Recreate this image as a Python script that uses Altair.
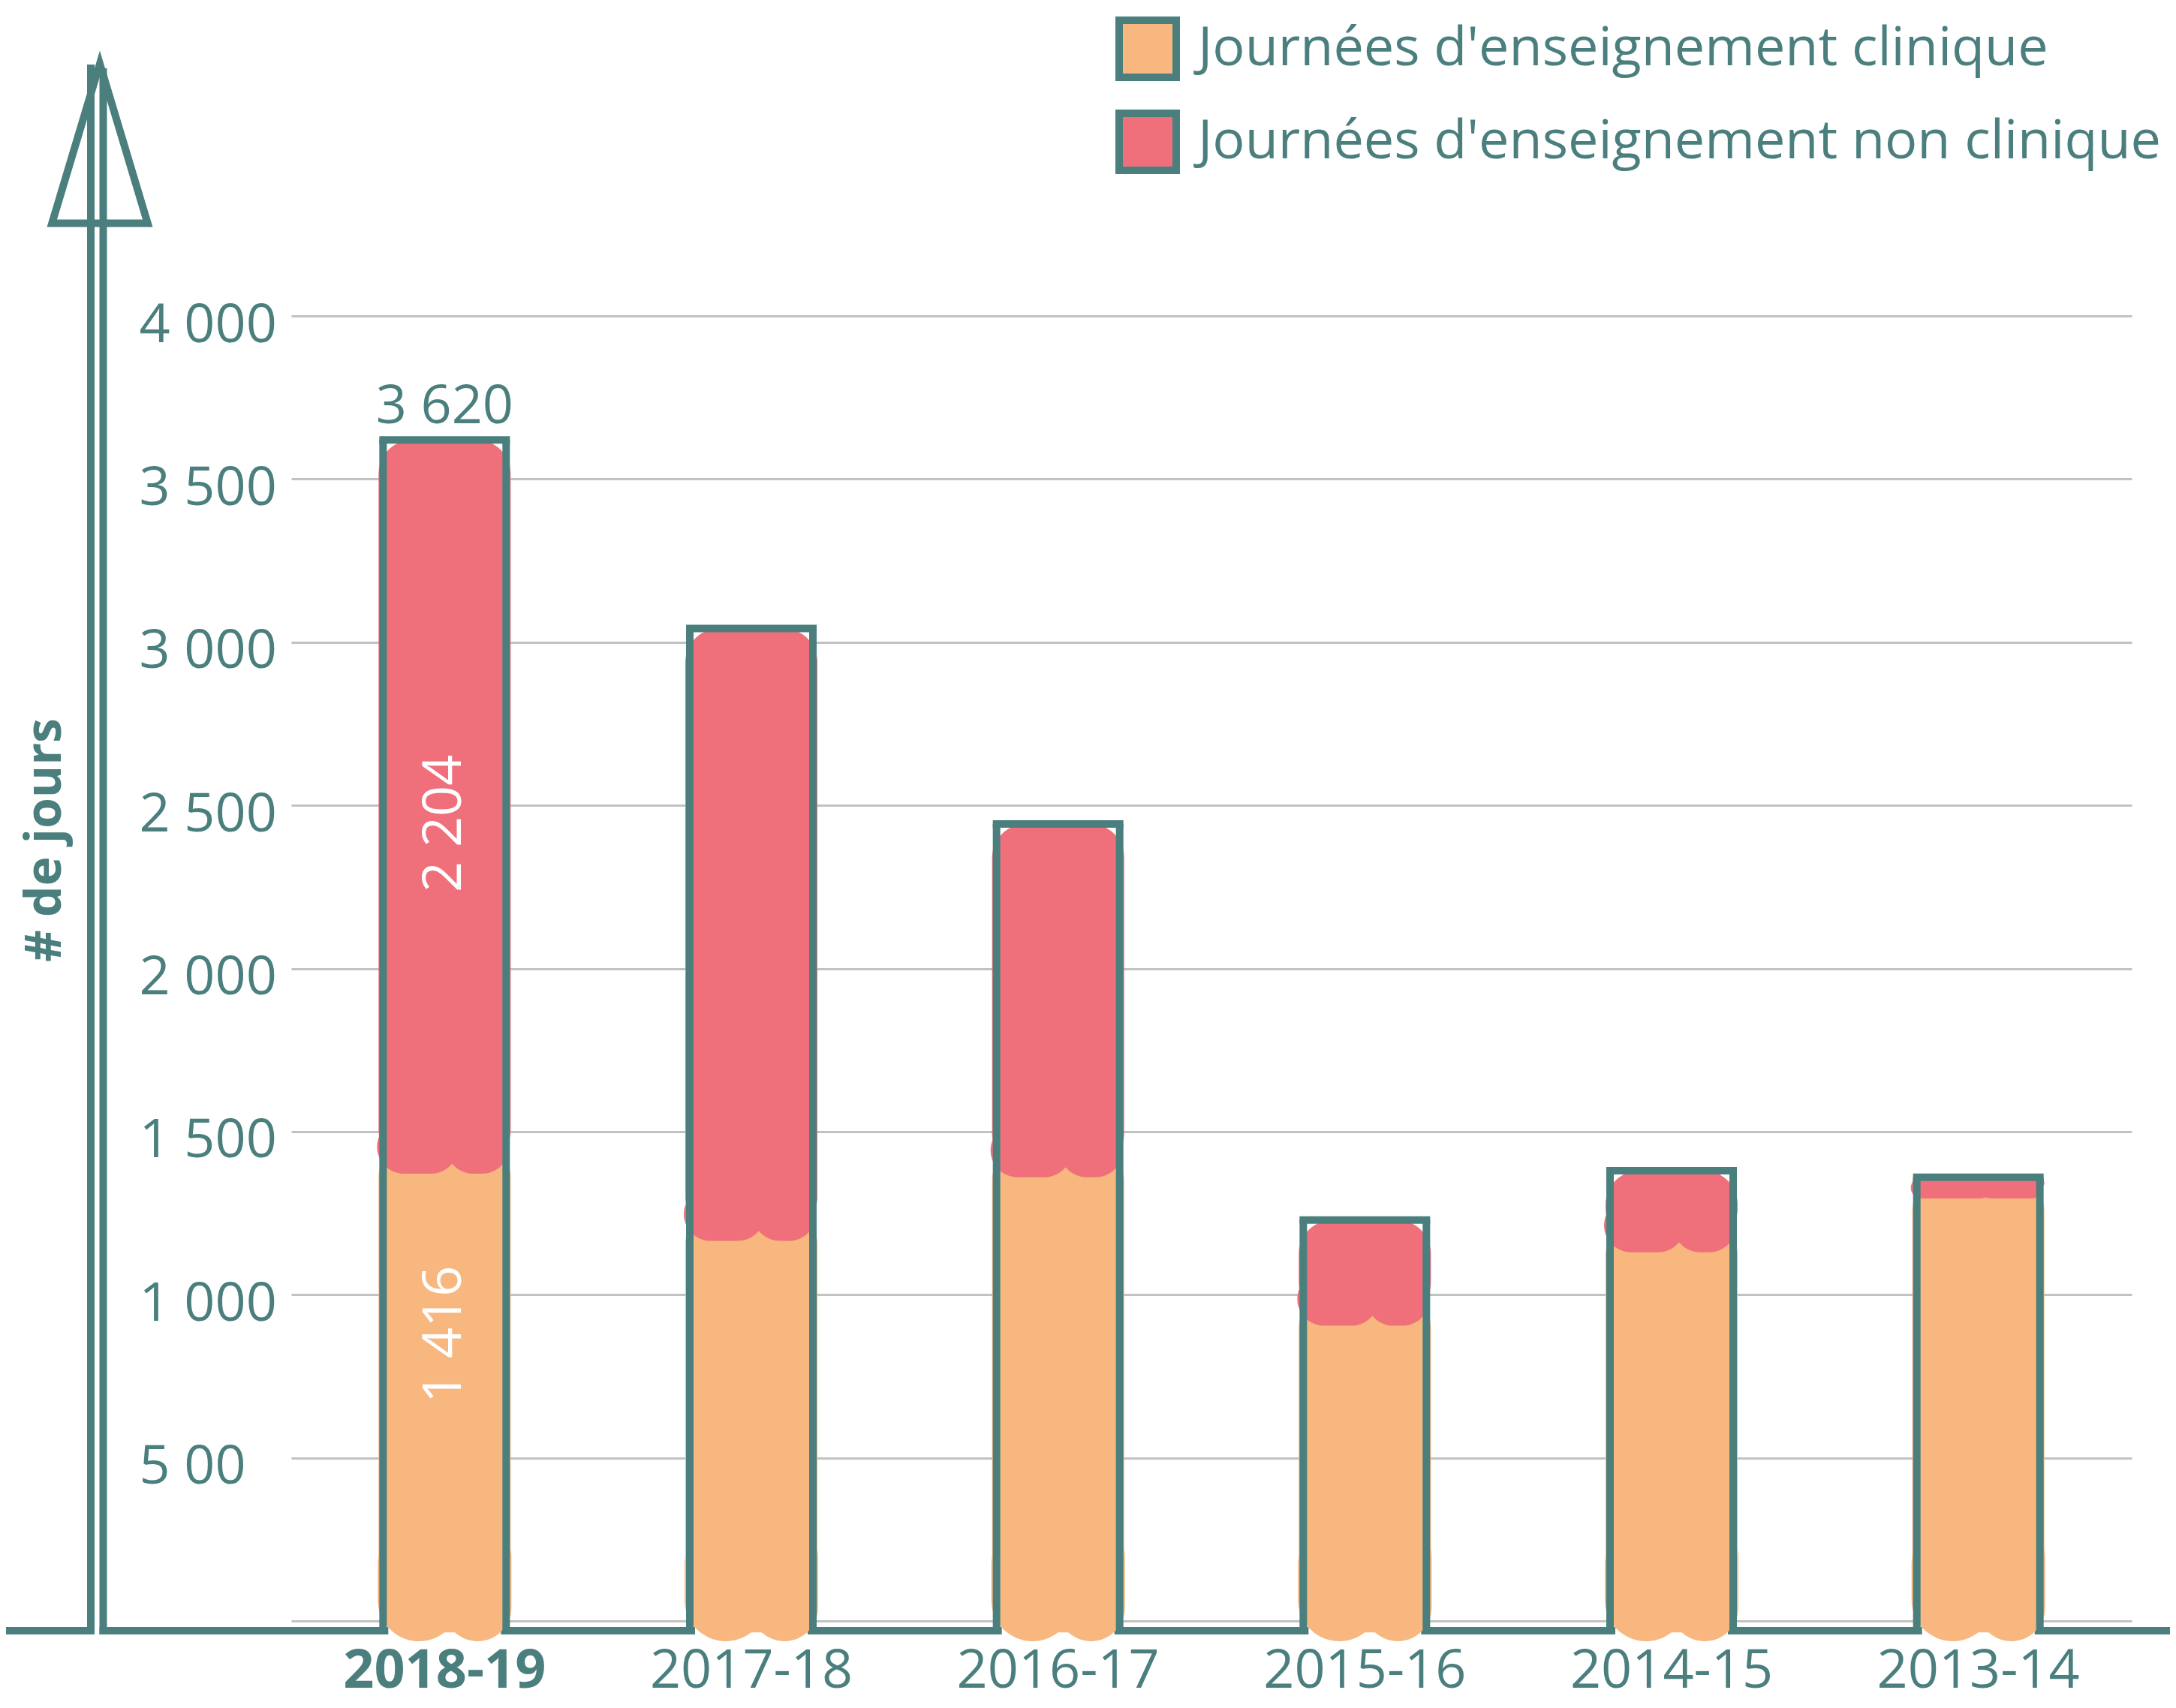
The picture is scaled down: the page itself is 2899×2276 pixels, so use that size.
import altair as alt
import pandas as pd

# ---------------- data ----------------
years = ["2018-19", "2017-18", "2016-17", "2015-16", "2014-15", "2013-14"]
clinical = [1416, 1210, 1405, 950, 1175, 1340]
non_clinical = [2204, 1832, 1038, 279, 205, 20]
series_names = ["Journées d'enseignement clinique", "Journées d'enseignement non clinique"]
y_ticks = [0, 500, 1000, 1500, 2000, 2500, 3000, 3500, 4000]
y_tick_labels = ["", "5 00", "1 000", "1 500", "2 000", "2 500", "3 000", "3 500", "4 000"]
labelled_year = "2018-19"
y_title = "# de jours"

# ---------------- style ----------------
TEAL = "#4A7F7E"
ORANGE = "#F7B77F"
RED = "#EF707B"
GRID = "#C2C2C2"
FONT = "Open Sans"
W, H = 2452, 1739
PAD = {"left": 380, "top": 413, "right": 51, "bottom": 108}


def fmt(v):
    return f"{v:,}".replace(",", " ")


totals = [c + n for c, n in zip(clinical, non_clinical)]
bars = pd.DataFrame({
    "year": years,
    "clinical": clinical,
    "non_clinical": non_clinical,
    "total": totals,
})
bars["total_label"] = [fmt(v) for v in totals]
bars["clin_label"] = [fmt(v) for v in clinical]
bars["non_label"] = [fmt(v) for v in non_clinical]
bars["clin_mid"] = [c / 2 for c in clinical]
bars["non_mid"] = [(c + t) / 2 for c, t in zip(clinical, totals)]
# painted "lobes" of the hand-drawn fill (extents derived from the values)
bars["red_lobe_top"] = [min(c + 120, t) for c, t in zip(clinical, totals)]
bars["red_lobe_bot"] = [c - 45 for c in clinical]
bars["org_lobe_top"] = [min(300, c) for c in clinical]
bars["org_lobe_bot"] = [-62 for _ in clinical]

rows = []
for yv, c, t in zip(years, clinical, totals):
    rows.append({"year": yv, "series": series_names[0], "top": min(c + 50, t), "bottom": -35})
for yv, c, t in zip(years, clinical, totals):
    rows.append({"year": yv, "series": series_names[1], "top": t, "bottom": c - 15})
blobs = pd.DataFrame(rows)
one = pd.DataFrame({"k": [0]})

label_expr = " : ".join(
    f"datum.value == {v} ? '{l}'" for v, l in zip(y_ticks, y_tick_labels)
) + " : ''"

x_axis = alt.Axis(
    title=None, labelAngle=0, labelFont=FONT, labelFontSize=72, labelColor=TEAL,
    labelFontWeight={"condition": {"test": f"datum.value == '{labelled_year}'", "value": "bold"},
                     "value": "normal"},
    labelPadding=88, labelBaseline="alphabetic", ticks=False, tickSize=0,
    domain=False, grid=False, labelLimit=1000, labelOverlap=False,
)
y_axis = alt.Axis(
    title=y_title, values=y_ticks, labelExpr=label_expr, labelFont=FONT,
    labelFontSize=72, labelColor=TEAL, labelAlign="left", labelPadding=203,
    labelBaseline="alphabetic", labelOffset=34, ticks=False, tickSize=0,
    domain=False, grid=True, gridColor=GRID, gridWidth=3, labelLimit=1000,
    labelOverlap=False,
    titleFont=FONT, titleFontWeight="bold", titleFontSize=66, titleColor=TEAL,
    titleAngle=270, titleAlign="center", titleBaseline="alphabetic",
    titleX=-308, titleY=698,
)
x_scale = alt.Scale(domain=years, paddingInner=0.6, paddingOuter=0.3)
y_scale = alt.Scale(domain=[0, 4000], nice=False, zero=False)


def X():
    return alt.X("year:N", sort=years, scale=x_scale, axis=x_axis)


def Y(field):
    return alt.Y(field, type="quantitative", scale=y_scale, axis=y_axis)


# baseline (interrupted by the arrow shaft)
base1 = alt.Chart(one).mark_rule(color=TEAL, strokeWidth=10, strokeCap="butt").encode(
    x=alt.value(-380), x2=alt.value(-262), y=alt.value(H + 13))
base2 = alt.Chart(one).mark_rule(color=TEAL, strokeWidth=10, strokeCap="butt").encode(
    x=alt.value(-255.5), x2=alt.value(W + 51), y=alt.value(H + 13))
# arrow shaft (double line) and head
shaft1 = alt.Chart(one).mark_rule(color=TEAL, strokeWidth=10, strokeCap="butt").encode(
    x=alt.value(-267), y=alt.value(-335), y2=alt.value(H + 18))
shaft2 = alt.Chart(one).mark_rule(color=TEAL, strokeWidth=10, strokeCap="butt").encode(
    x=alt.value(-250.5), y=alt.value(-330), y2=alt.value(H + 18))
head = alt.Chart(one).mark_point(
    shape="M0,-1L0.6,1L-0.6,1Z", size=45156, filled=False, stroke=TEAL,
    strokeWidth=10, opacity=1, strokeJoin="miter",
).encode(x=alt.value(-255), y=alt.value(-229.75))

# white cover hiding the baseline under each bar
cover = alt.Chart(bars).mark_bar(color="white", width=150, opacity=1).encode(
    x=X(), y=alt.value(H - 2), y2=alt.value(H + 20))

# painted fills
fills = alt.Chart(blobs).mark_bar(width=176, cornerRadius=45, opacity=1).encode(
    x=X(),
    y=Y("top"),
    y2="bottom:Q",
    color=alt.Color(
        "series:N",
        scale=alt.Scale(domain=series_names, range=[ORANGE, RED]),
        legend=alt.Legend(
            title=None, orient="none", legendX=1098, legendY=-399, padding=0,
            symbolType="square", symbolSize=5776, symbolStrokeColor=TEAL,
            symbolStrokeWidth=10, symbolOpacity=1, labelFont=FONT, labelFontSize=72,
            labelColor=TEAL, labelOffset=24, rowPadding=8, labelLimit=3000,
        ),
    ),
)


def lobe(color, top, bot, width, offset, radius):
    return alt.Chart(bars).mark_bar(
        color=color, width=width, xOffset=offset, cornerRadius=radius, opacity=1
    ).encode(x=X(), y=Y(top), y2=alt.Y2(bot))


org_l = lobe(ORANGE, "org_lobe_top", "org_lobe_bot", 110, -34, 55)
org_r = lobe(ORANGE, "org_lobe_top", "org_lobe_bot", 90, 44, 45)
red_l = lobe(RED, "red_lobe_top", "red_lobe_bot", 108, -36, 54)
red_r = lobe(RED, "red_lobe_top", "red_lobe_bot", 84, 44, 42)

# outlines
side_l = alt.Chart(bars).mark_rule(color=TEAL, strokeWidth=10, xOffset=-82, strokeCap="butt").encode(
    x=X(), y=Y("total"), y2=alt.value(H + 18))
side_r = alt.Chart(bars).mark_rule(color=TEAL, strokeWidth=10, xOffset=82, strokeCap="butt").encode(
    x=X(), y=Y("total"), y2=alt.value(H + 18))
top = alt.Chart(bars).mark_tick(color=TEAL, thickness=10, size=174, opacity=1, orient="horizontal").encode(
    x=X(), y=Y("total"))

# labels
lab = alt.Chart(bars).transform_filter(alt.datum.year == labelled_year)
total_text = lab.mark_text(font=FONT, fontSize=72, color=TEAL, baseline="alphabetic", dy=-22).encode(
    x=X(), y=Y("total"), text="total_label:N")
non_text = lab.mark_text(font=FONT, fontSize=72, color="white", angle=270, baseline="middle",
                         align="center", yOffset=32).encode(
    x=X(), y=Y("non_mid"), text="non_label:N")
clin_text = lab.mark_text(font=FONT, fontSize=72, color="white", angle=270, baseline="middle",
                          align="center", yOffset=-74).encode(
    x=X(), y=Y("clin_mid"), text="clin_label:N")

chart = alt.layer(
    base1, base2, shaft1, shaft2, head, cover, fills, org_l, org_r, red_l, red_r,
    side_l, side_r, top, total_text, non_text, clin_text,
).properties(
    width=W, height=H, padding=PAD, autosize=alt.AutoSizeParams(type="none"),
).configure_view(stroke=None)

chart.save("out.html", embed_options={"renderer": "svg", "actions": False})
